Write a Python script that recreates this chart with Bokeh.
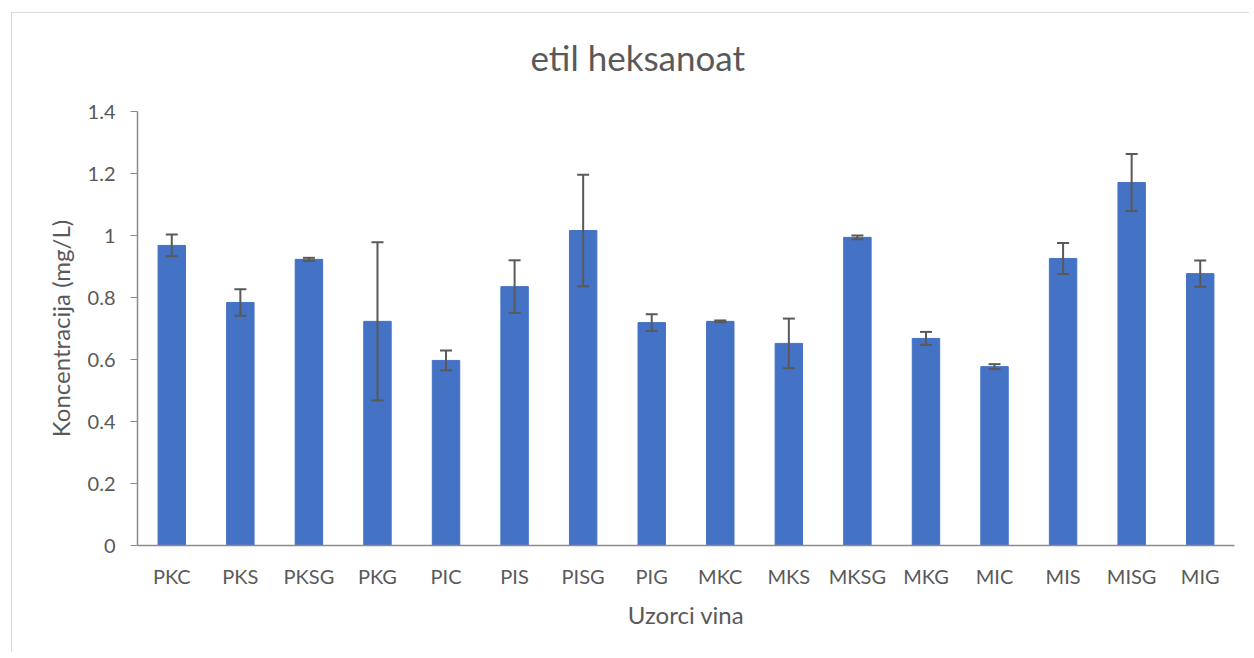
from bokeh.plotting import figure
from bokeh.models import (ColumnDataSource, Whisker, TeeHead, FixedTicker,
                          CustomJSTickFormatter, Title)
from bokeh.embed import file_html
from bokeh.resources import INLINE

categories = ["PKC", "PKS", "PKSG", "PKG", "PIC", "PIS", "PISG", "PIG",
              "MKC", "MKS", "MKSG", "MKG", "MIC", "MIS", "MISG", "MIG"]
values = [0.968, 0.784, 0.923, 0.723, 0.597, 0.835, 1.016, 0.719,
          0.723, 0.652, 0.994, 0.668, 0.577, 0.926, 1.171, 0.877]
errors = [0.035, 0.043, 0.005, 0.255, 0.032, 0.085, 0.180, 0.027,
          0.003, 0.080, 0.006, 0.021, 0.008, 0.050, 0.092, 0.042]
y_ticks = [0, 0.2, 0.4, 0.6, 0.8, 1.0, 1.2, 1.4]
title_text = "etil heksanoat"
x_label = "Uzorci vina"
y_label = "Koncentracija (mg/L)"

FONT = "Lato"
TXT = "#595959"
AX = "#8c8c8c"

src = ColumnDataSource(dict(
    cat=categories,
    val=values,
    lo=[v - e for v, e in zip(values, errors)],
    hi=[v + e for v, e in zip(values, errors)],
))

p = figure(x_range=categories, y_range=(0, 1.4), width=1238, height=640,
           output_backend="svg", toolbar_location=None,
           min_border_left=125, min_border_right=16,
           min_border_top=98, min_border_bottom=108)
p.x_range.range_padding = 0
p.styles = {"margin-left": "11px", "margin-top": "12px",
            "border-left": "1px solid #d9d9d9",
            "border-top": "1px solid #d9d9d9"}

p.vbar(x="cat", top="val", width=0.4, source=src,
       fill_color="#4472C4", line_color="#4472C4")

w = Whisker(base="cat", lower="lo", upper="hi", source=src,
            line_color="#595959", line_width=2, level="overlay",
            upper_head=TeeHead(size=12, line_color="#595959", line_width=2),
            lower_head=TeeHead(size=12, line_color="#595959", line_width=2))
p.add_layout(w)

p.grid.visible = False
p.outline_line_color = None
p.background_fill_color = "white"
p.border_fill_color = "white"

# real title, with a blank spacer title between it and the frame
p.title.text = title_text
p.title.align = "left"
p.title.offset = 393
p.title.text_font = FONT
p.title.text_font_size = "35px"
p.title.text_font_style = "normal"
p.title.text_color = TXT
p.title.standoff = 0
p.add_layout(Title(text=" ", text_font_size="20px", standoff=10), "above")

# axes
p.yaxis.ticker = FixedTicker(ticks=y_ticks)
p.yaxis.formatter = CustomJSTickFormatter(
    code="return tick.toFixed(1).replace(/\\.0$/, '');")
for ax in (p.xaxis, p.yaxis):
    ax.axis_line_color = AX
    ax.axis_line_width = 1.5
    ax.major_label_text_color = TXT
    ax.major_label_text_font = FONT
    ax.major_label_text_font_size = "20px"
    ax.axis_label_text_color = TXT
    ax.axis_label_text_font = FONT
    ax.axis_label_text_font_size = "24px"
    ax.axis_label_text_font_style = "normal"
    ax.minor_tick_line_color = None

p.yaxis.major_tick_line_color = AX
p.yaxis.major_tick_in = 0
p.yaxis.major_tick_out = 7
p.yaxis.major_label_standoff = 15
p.yaxis.axis_label = y_label
p.yaxis.axis_label_standoff = 10

p.xaxis.major_tick_line_color = None
p.xaxis.major_tick_in = 0
p.xaxis.major_tick_out = 0
p.xaxis.major_label_standoff = 18
p.xaxis.axis_label = x_label
p.xaxis.axis_label_standoff = 9

open("out.html", "w").write(file_html(p, INLINE))
